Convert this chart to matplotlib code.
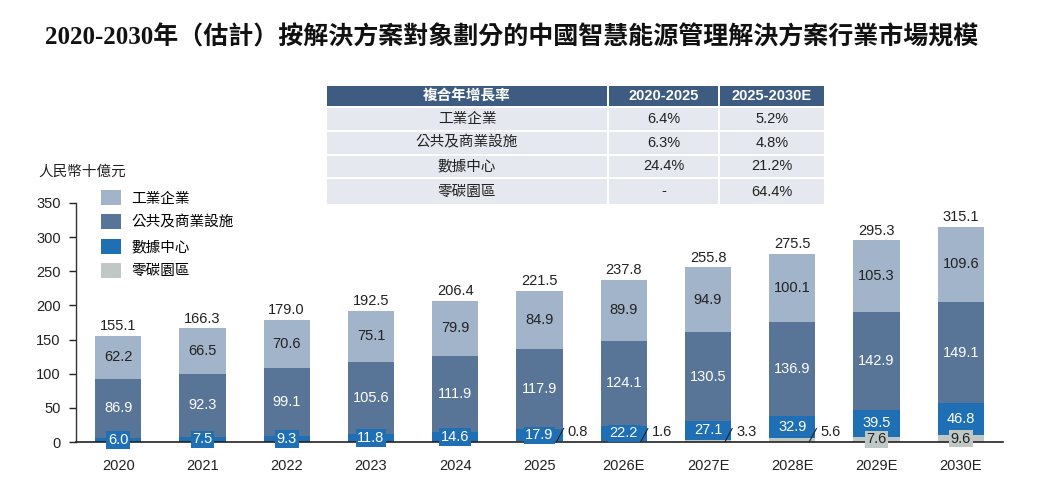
import matplotlib
matplotlib.use("Agg")
import matplotlib.pyplot as plt
from matplotlib.patches import Rectangle, Patch

plt.rcParams['font.family'] = ['Liberation Sans', 'Noto Sans CJK TC', 'DejaVu Sans']

years = ["2020", "2021", "2022", "2023", "2024", "2025", "2026E", "2027E", "2028E", "2029E", "2030E"]
industrial = [62.2, 66.5, 70.6, 75.1, 79.9, 84.9, 89.9, 94.9, 100.1, 105.3, 109.6]
public = [86.9, 92.3, 99.1, 105.6, 111.9, 117.9, 124.1, 130.5, 136.9, 142.9, 149.1]
datacenter = [6.0, 7.5, 9.3, 11.8, 14.6, 17.9, 22.2, 27.1, 32.9, 39.5, 46.8]
zerocarbon = [0, 0, 0, 0, 0, 0.8, 1.6, 3.3, 5.6, 7.6, 9.6]
totals = [155.1, 166.3, 179.0, 192.5, 206.4, 221.5, 237.8, 255.8, 275.5, 295.3, 315.1]

series_names = ["工業企業", "公共及商業設施", "數據中心", "零碳園區"]
table_header = ["複合年增長率", "2020-2025", "2025-2030E"]
table_rows = [
    ["工業企業", "6.4%", "5.2%"],
    ["公共及商業設施", "6.3%", "4.8%"],
    ["數據中心", "24.4%", "21.2%"],
    ["零碳園區", "-", "64.4%"],
]
yticks = [0, 50, 100, 150, 200, 250, 300, 350]
title = "2020-2030年（估計）按解決方案對象劃分的中國智慧能源管理解決方案行業市場規模"
unit = "人民幣十億元"

c_ind = "#A2B4C9"
c_pub = "#587597"
c_dc = "#1F6FB5"
c_zc = "#BFC8C5"
c_hdr = "#3E5C82"
c_row = "#E5E9EF"
txt = "#222222"

W, H = 1046, 500
fig = plt.figure(figsize=(W / 100, H / 100), dpi=100)

ax = fig.add_axes([76 / W, (H - 442) / H, 927 / W, 239 / H])
x = list(range(len(years)))
bw = 0.55

b_zc = [0] * len(years)
b_dc = zerocarbon
b_pub = [z + d for z, d in zip(zerocarbon, datacenter)]
b_ind = [z + d + p for z, d, p in zip(zerocarbon, datacenter, public)]

ax.bar(x, zerocarbon, bw, bottom=b_zc, color=c_zc, zorder=2)
ax.bar(x, datacenter, bw, bottom=b_dc, color=c_dc, zorder=2)
ax.bar(x, public, bw, bottom=b_pub, color=c_pub, zorder=2)
ax.bar(x, industrial, bw, bottom=b_ind, color=c_ind, zorder=2)

fs = 10.5
for i in x:
    ax.text(i, b_ind[i] + industrial[i] / 2, f"{industrial[i]:.1f}", ha="center", va="center",
            fontsize=fs, color=txt, zorder=5)
    ax.text(i, b_pub[i] + public[i] / 2, f"{public[i]:.1f}", ha="center", va="center",
            fontsize=fs, color="white", zorder=5)
    ax.text(i, b_dc[i] + datacenter[i] / 2, f"{datacenter[i]:.1f}", ha="center", va="center",
            fontsize=fs, color="white", zorder=6,
            bbox=dict(boxstyle="square,pad=0.12", fc=c_dc, ec="none"))
    ax.text(i, totals[i] + 4, f"{totals[i]:.1f}", ha="center", va="bottom",
            fontsize=fs, color=txt, zorder=5)
    z = zerocarbon[i]
    if z > 0:
        if z < 7:
            right = i + bw / 2
            ax.annotate("", xy=(right - 0.075, 0), xytext=(right + 0.012, 20),
                        arrowprops=dict(arrowstyle="-", color=txt, lw=0.8, shrinkA=0, shrinkB=0),
                        annotation_clip=False, zorder=7)
            ax.text(right + 0.06, 15, f"{z:.1f}", fontsize=fs, color=txt,
                    ha="left", va="center", zorder=7)
        else:
            ax.text(i, z / 2, f"{z:.1f}", ha="center", va="center", fontsize=fs, color=txt,
                    zorder=6, bbox=dict(boxstyle="square,pad=0.12", fc=c_zc, ec="none"))

ax.set_xlim(-0.5, 10.5)
ax.set_ylim(0, 350)
ax.set_yticks(yticks)
ax.set_xticks(x)
ax.set_xticklabels(years)
ax.tick_params(axis="x", length=0, pad=12, labelsize=fs, colors=txt)
ax.tick_params(axis="y", length=5, width=1, direction="out", labelsize=fs, colors=txt, pad=6)
for s in ["top", "right"]:
    ax.spines[s].set_visible(False)
ax.spines["left"].set_color("#333333")
ax.spines["bottom"].set_color("#222222")
ax.spines["left"].set_linewidth(1.0)
ax.spines["bottom"].set_linewidth(1.2)

# legend
handles = [Patch(facecolor=c, edgecolor="none") for c in [c_ind, c_pub, c_dc, c_zc]]
leg = fig.legend(handles, series_names, loc="upper left", bbox_to_anchor=(94 / W, 1 - 183 / H),
                 frameon=False, fontsize=fs, handlelength=1.35, handleheight=1.2,
                 labelspacing=0.6, handletextpad=0.7, borderpad=0)

fig.text(38 / W, 1 - 172 / H, unit, fontsize=fs, color=txt, ha="left", va="center")

fig.text(512 / W, 1 - 37 / H, title, fontsize=18, fontweight="bold", color="#111111",
         ha="center", va="center",
         family=['Liberation Serif', 'Noto Sans CJK TC'])

# table
tax = fig.add_axes([327 / W, (H - 204) / H, 497 / W, 118 / H])
tax.set_xlim(0, 497)
tax.set_ylim(118, 0)
tax.axis("off")
col_x = [0, 280, 391, 497]
row_y = [0, 20, 44, 67.5, 91, 118]
gap = 2
for r in range(5):
    for c in range(3):
        x0 = col_x[c] + (gap if c > 0 else 0)
        x1 = col_x[c + 1]
        y0 = row_y[r] + (gap if r > 0 else 0)
        y1 = row_y[r + 1]
        fc = c_hdr if r == 0 else c_row
        tax.add_patch(Rectangle((x0, y0), x1 - x0, y1 - y0, fc=fc, ec="none"))
        label = table_header[c] if r == 0 else table_rows[r - 1][c]
        tax.text((x0 + x1) / 2, (y0 + y1) / 2, label, ha="center", va="center",
                 fontsize=10.5, color="white" if r == 0 else txt,
                 fontweight="bold" if r == 0 else "normal")

fig.savefig("out.png", dpi=100)
